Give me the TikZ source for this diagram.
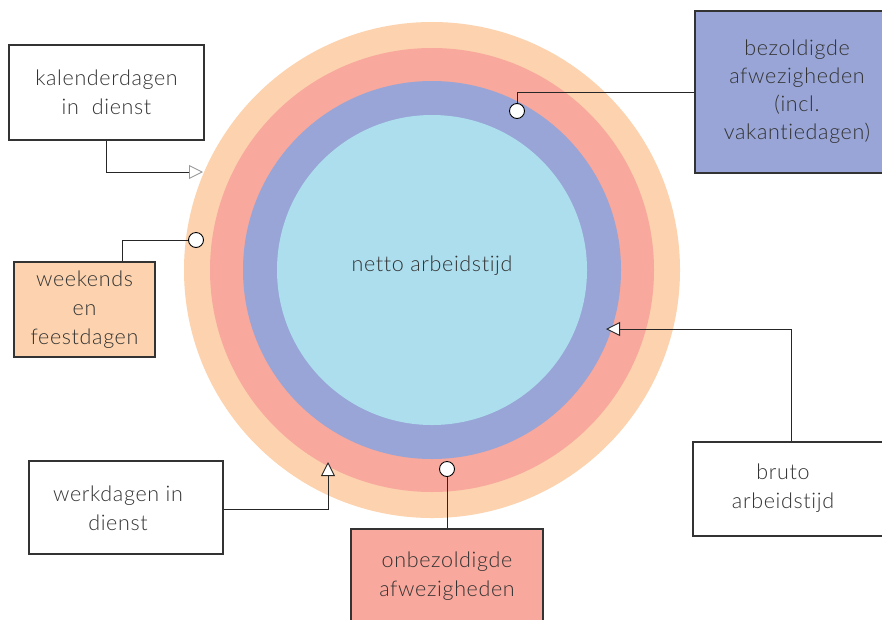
\documentclass[tikz,border=0pt]{standalone}
\usepackage{fontspec}
\setmainfont{Lato Light}[LetterSpace=3, Ligatures=CommonOff]
\usetikzlibrary{arrows.meta}
\definecolor{peach}{HTML}{FCD3AE}
\definecolor{salmon}{HTML}{F8A89C}
\definecolor{lav}{HTML}{98A5D6}
\definecolor{sky}{HTML}{ACDEEE}
\definecolor{txt}{HTML}{333333}
\tikzset{
  lbl/.style={draw=txt, line width=1.1pt, align=center, text=txt, inner sep=0pt, font=\fontsize{21.5}{29}\selectfont},
  tx/.style={text=txt, align=center, font=\fontsize{21.5}{29}\selectfont},
  conn/.style={draw=black!85, line width=0.9pt},
  dot/.style={circle, draw=black, fill=white, line width=0.9pt, minimum size=15pt, inner sep=0pt},
  tip/.style={-{Triangle[fill=white, length=14pt, width=14pt]}},
}
\begin{document}
\begin{tikzpicture}[x=1pt,y=-1pt]
\useasboundingbox (0,0) rectangle (882,619);
% rings
\fill[peach] (432,270) circle (248);
\fill[salmon] (432,270) circle (222);
\fill[lav] (432,270) circle (189);
\fill[sky] (432,270) circle (155);
\node[tx] (netto) at (432,266) {netto arbeidstijd};
% boxes
\node[lbl, fill=white, minimum width=195pt, minimum height=95pt] (kal) at (106.5,92.5) {kalenderdagen\\in\ \ dienst};
\node[lbl, fill=peach, minimum width=141pt, minimum height=95pt] (wk) at (84.5,309.5) {weekends\\en\\feestdagen};
\node[lbl, fill=white, minimum width=194pt, minimum height=93pt] (werk) at (126,507.5) {};
\node[tx] at (118,508) {werkdagen in\\dienst};
\node[lbl, fill=salmon, minimum width=192pt, minimum height=100pt] (onb) at (447,579) {};
\node[tx] at (447,576) {onbezoldigde\\afwezigheden};
\node[lbl, fill=white, minimum width=190pt, minimum height=94pt] (bruto) at (788,489) {};
\node[tx] at (783,488) {bruto\\arbeidstijd};
\node[lbl, fill=lav, minimum width=190pt, minimum height=162pt] (bez) at (790,92) {};
\node[tx, font=\fontsize{21.5}{28}\selectfont] at (797,92) {bezoldigde\\afwezigheden\\(incl.\\vakantiedagen)};
% end dots
\node[dot] (dwk) at (196,240) {};
\node[dot] (donb) at (447,469) {};
\node[dot] (dbez) at (517,111) {};
% arrow targets
\coordinate (tkal) at (203,172);
\coordinate (twerk) at (328,462);
\coordinate (tbruto) at (606,329);
% connectors
\draw[conn, -{Triangle[fill=white, color=black!40, length=14pt, width=14pt]}] (kal.south) |- (tkal);
\draw[conn] (wk.north -| 122,0) |- (dwk);
\draw[conn, tip] (werk.east |- 0,509) -| (twerk);
\draw[conn] (onb.north) -- (donb);
\draw[conn, tip] (bruto.north -| 791,0) |- (tbruto);
\draw[conn] (bez.west |- 0,92) -| (dbez);
\end{tikzpicture}
\end{document}
